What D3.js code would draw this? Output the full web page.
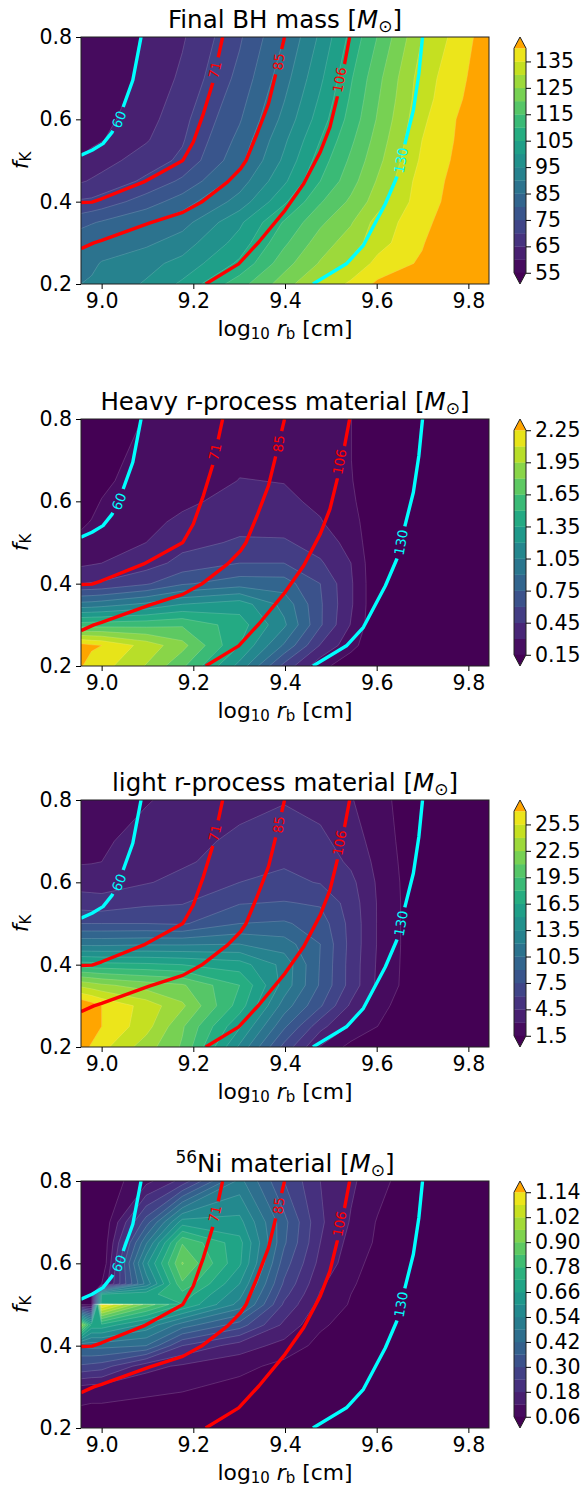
<!DOCTYPE html>
<html><head><meta charset="utf-8">
<script src="https://d3js.org/d3.v7.min.js"></script>
<style>html,body{margin:0;padding:0;background:#fff}svg{display:block}text{font-family:"DejaVu Sans";fill:#000}</style>
</head><body><svg id="c" width="584" height="1486"></svg>
<script>
// grid coordinates
const logRb=[8.955,8.978,9.0,9.097,9.176,9.301,9.398,9.477,9.544,9.602,9.699,9.845];
const fK=[.2,.25,.3,.35,.4,.45,.5,.55,.6,.65,.7,.8];
const fKni=[.2,.25,.3,.35,.4,.45,.5,.501,.525,.55,.6,.65,.7,.8];
// field values, rows from fK=.2 to fK=.8
const bhMass=[
[90,91,92,95.5,101,113,122.5,131,136,141,146,165],
[87,88.5,90.5,93.5,96.5,106,118,125.5,131,136.5,140.8,160],
[84,84.8,85.8,89,92.5,102,114,122.5,127.5,133,139.5,152],
[78.2,79.5,80.5,84.4,88,99,110.5,119,124.5,132,138.5,147.9],
[70.7,71,72,77.5,82.5,92,104,114.5,121,127.5,138,145.1],
[64.5,65.5,66.5,71,76,87.5,99,110,118,125.5,137.5,144.9],
[60.8,62,63,67.5,71,83.5,96,107.5,116,123.5,136,145.5],
[57.5,58.8,59.7,64.5,69.5,81.5,94,105,114,122,135,145.5],
[56,57.3,58.5,63,68.5,79.5,91.5,102.5,112,120.5,134,145.8],
[55.5,56.6,57.7,62,67.2,78,89.7,100.7,110.7,119.5,133,144.5],
[55,56,57,61.2,66,76.5,88,99,109.5,118.5,132.5,143.7],
[55,56,57,60.5,64.4,74.3,85,96,106.5,115.2,130,143]];
const heavyR=[
[2.26,2.2,2.16,1.94,1.68,1.15,.55,.2,.05,.02,.02,.02],
[2.31,2.27,2.25,2.04,1.85,1.35,.88,.44,.2,.02,.02,.02],
[1.57,1.58,1.58,1.6,1.63,1.42,1.08,.62,.29,.02,.02,.02],
[.95,.96,.98,1.08,1.2,1.28,1,.62,.32,.02,.02,.02],
[.45,.46,.47,.58,.73,.83,.82,.6,.32,.02,.02,.02],
[.27,.285,.3,.38,.5,.6,.6,.47,.3,.02,.02,.02],
[.18,.2,.22,.3,.4,.47,.47,.38,.25,.02,.02,.02],
[.13,.155,.18,.26,.33,.4,.38,.31,.2,.05,.02,.02],
[.09,.12,.155,.21,.27,.35,.33,.27,.18,.02,.02,.02],
[.07,.09,.12,.22,.19,.305,.295,.23,.16,.02,.02,.02],
[.05,.07,.1,.2,.17,.27,.24,.2,.152,.02,.02,.02],
[.03,.04,.05,.16,.17,.22,.2,.16,.152,.02,.02,.02]];
const lightR=[
[28,26.7,26,23.2,20.8,13.2,7,2.9,1,.5,.2,.2],
[29.5,28.2,27,24.6,21.2,15.2,9.3,5,2.8,1.5,.2,.2],
[28.5,27.8,27,24.9,22.8,17.3,11.3,7.7,4.2,2,.2,.2],
[23.6,23.2,22.8,21.8,21.2,18,12.9,8.8,5.4,2.7,.2,.2],
[17.2,17.1,17,16.8,16.5,15.7,13,8.9,5.4,2.8,.2,.2],
[11.6,11.6,11.6,11.8,11.8,12,11.2,9,5.5,2.9,.2,.2],
[7.5,7.5,7.5,7.5,7.3,9,9.2,8.3,5.5,2.9,.2,.2],
[5.2,5.1,5,5.7,5.9,7.4,7.6,7.3,5.3,2.9,.2,.2],
[3.9,3.9,3.9,4.4,4.9,6,6.4,5.9,4.9,2.8,.2,.2],
[2.85,2.9,3,3.9,4.3,5.1,5.8,5.4,4.2,2.6,.2,.2],
[2.6,2.7,2.8,3.5,3.9,4.9,5.3,4.9,3.7,2.4,.2,.2],
[2,2.1,2.2,2.9,3.4,3.9,4.4,3.9,3.1,2.1,.2,.2]];
const ni56=[
[0,0,0,0,0,0,0,0,0,0,0,0],
[.055,.05,.05,.04,.03,.02,.01,0,0,0,0,0],
[.11,.1,.1,.08,.07,.04,.02,.01,0,0,0,0],
[.29,.28,.27,.14,.11,.08,.04,.02,0,0,0,0],
[.43,.44,.44,.42,.24,.15,.1,.04,.02,0,0,0],
[.95,.7,.7,.58,.45,.33,.165,.07,.035,.01,0,0],
[.06,.05,1.15,.88,.72,.52,.23,.1,.055,.01,0,0],
[.05,.04,.7,.69,.72,.52,.23,.1,.055,.01,0,0],
[.03,.03,.66,.7,.76,.56,.26,.115,.06,.015,0,0],
[.02,.02,.06,.5,.83,.6,.29,.13,.07,.02,0,0],
[0,0,0,.585,.905,.67,.33,.16,.09,.03,0,0],
[0,0,0,.47,.835,.68,.37,.18,.1,.05,0,0],
[0,0,0,.33,.63,.62,.38,.19,.115,.055,0,0],
[0,0,.02,.1,.2,.5,.3,.18,.13,.085,0,0]];
// contour levels
const bhLevels=d3.range(18).map(i=>55+5*i);
const heavyLevels=d3.range(15).map(i=>+(0.15+0.15*i).toFixed(2));
const lightLevels=d3.range(18).map(i=>1.5+1.5*i);
const niLevels=d3.range(19).map(i=>+(0.06+0.06*i).toFixed(2));
const bhTicks=["55","65","75","85","95","105","115","125","135"];
const heavyTicks=["0.15","0.45","0.75","1.05","1.35","1.65","1.95","2.25"];
const lightTicks=["1.5","4.5","7.5","10.5","13.5","16.5","19.5","22.5","25.5"];
const niTicks=["0.06","0.18","0.30","0.42","0.54","0.66","0.78","0.90","1.02","1.14"];
// BH-mass contour lines overlaid on all panels [log r_b, f_K]
const line60=[[8.955,.513],[8.979,.525],[9.003,.541],[9.023,.569],[9.047,.63],[9.068,.695],[9.086,.8]];
const line71=[[8.955,.398],[8.979,.399],[9,.407],[9.092,.448],[9.177,.5],[9.2,.545],[9.222,.614],[9.242,.687],[9.264,.8]];
const line85=[[8.955,.286],[8.983,.3],[9,.306],[9.104,.348],[9.177,.374],[9.218,.399],[9.275,.448],[9.303,.48],[9.315,.5],[9.339,.565],[9.364,.638],[9.38,.711],[9.399,.8]];
const line106=[[9.227,.2],[9.299,.249],[9.343,.302],[9.4,.379],[9.441,.444],[9.477,.521],[9.498,.581],[9.514,.654],[9.53,.735],[9.541,.8]];
const line130=[[9.461,.2],[9.534,.249],[9.571,.294],[9.619,.395],[9.644,.46],[9.66,.533],[9.68,.622],[9.692,.711],[9.7,.8]];
const overlay=[
 {name:"60",pts:line60,color:"#00ffff",at:[9.038,.6],ang:-68},
 {name:"71",pts:line71,color:"#ff0000",at:[9.247,.72],ang:-78},
 {name:"85",pts:line85,color:"#ff0000",at:[9.386,.74],ang:-84},
 {name:"106",pts:line106,color:"#ff0000",at:[9.519,.696],ang:-80},
 {name:"130",pts:line130,color:"#00ffff",at:[9.653,.5],ang:-80}];
const xTicks=[9.0,9.2,9.4,9.6,9.8], yTicks=[.2,.4,.6,.8];

const panels=[
 {top:37,grid:bhMass,rows:fK,levels:bhLevels,ticks:bhTicks,title:"final"},
 {top:419,grid:heavyR,rows:fK,levels:heavyLevels,ticks:heavyTicks,title:"heavy"},
 {top:800,grid:lightR,rows:fK,levels:lightLevels,ticks:lightTicks,title:"light"},
 {top:1181,grid:ni56,rows:fKni,levels:niLevels,ticks:niTicks,title:"ni"}];

const L=81,R=489,H=247,FS=20.5,TS=24.5,LS=21.8;
const svg=d3.select("#c");
const over="#ffa500";
const idxX=d3.scaleLinear().domain(d3.range(logRb.length)).range(logRb);

function rich(t,parts){parts.forEach(p=>{const s=t.append("tspan").text(p.t);
  if(p.i)s.attr("font-style","italic");
  if(p.size)s.attr("font-size",p.size);
  if(p.dy)s.attr("dy",p.dy);});}
const msun=[{t:"M",i:1},{t:"⊙",size:17,dy:4},{t:"]",dy:-4}];
const titles={
 final:[{t:"Final BH mass ["},...msun],
 heavy:[{t:"Heavy r-process material ["},...msun],
 light:[{t:"light r-process material ["},...msun],
 ni:[{t:"56",size:17,dy:-9},{t:"Ni material [",dy:9},...msun]};

panels.forEach((p,pi)=>{
  const x=d3.scaleLinear().domain([8.955,9.845]).range([L,R]);
  const y=d3.scaleLinear().domain([.2,.8]).range([p.top+H,p.top]);
  const idxY=d3.scaleLinear().domain(d3.range(p.rows.length)).range(p.rows);
  const g=svg.append("g");
  const clipId="clip"+pi;
  svg.append("clipPath").attr("id",clipId).append("rect").attr("x",L).attr("y",p.top).attr("width",R-L).attr("height",H);
  const plot=g.append("g").attr("clip-path",`url(#${clipId})`);
  const n=p.levels.length-1;
  const bandColor=i=>i>=n?over:d3.interpolateViridis((i+.5)/n);
  plot.append("rect").attr("x",L).attr("y",p.top).attr("width",R-L).attr("height",H).attr("fill","#440154");
  const values=p.grid.flat();
  const nx=logRb.length,ny=p.rows.length;
  const conts=d3.contours().size([nx,ny]).thresholds(p.levels)(values);
  const px=pt=>{const cx=Math.max(0,Math.min(nx-1,pt[0]-.5)),cy=Math.max(0,Math.min(ny-1,pt[1]-.5));
    return [x(idxX(cx)),y(idxY(cy)),cx,cy];};
  const line=d3.line();
  conts.forEach((c,i)=>{
    let d="";
    c.coordinates.forEach(poly=>poly.forEach(ring=>{
      d+=line(ring.map(px).map(q=>[q[0],q[1]]))+"Z";}));
    if(d)plot.append("path").attr("d",d).attr("fill",bandColor(i)).attr("fill-rule","evenodd")
      .attr("stroke",bandColor(i)).attr("stroke-width",.3);
  });
  // thin level lines, omitting the parts lying on the frame
  conts.forEach(c=>{
    let d="";
    c.coordinates.forEach(poly=>poly.forEach(ring=>{
      const q=ring.map(px);
      for(let k=1;k<q.length;k++){
        const a=q[k-1],b=q[k];
        const same=(a[2]===b[2]&&(a[2]===0||a[2]===nx-1))||(a[3]===b[3]&&(a[3]===0||a[3]===ny-1));
        if(!same)d+=`M${a[0]},${a[1]}L${b[0]},${b[1]}`;
      }}));
    if(d)plot.append("path").attr("d",d).attr("fill","none").attr("stroke","#fff").attr("stroke-opacity",.3).attr("stroke-width",.5);
  });
  // overlay lines with label gaps
  overlay.forEach(o=>{
    const pts=o.pts.map(q=>[x(q[0]),y(q[1])]);
    const a=[x(o.at[0]),y(o.at[1])];
    const gap=(o.name.length===3?33:26)/2;
    let s=0,best=1e9,bestS=0;const cum=[0];
    for(let k=1;k<pts.length;k++){
      const u=pts[k-1],v=pts[k],dx=v[0]-u[0],dy=v[1]-u[1],l=Math.hypot(dx,dy);
      const tt=Math.max(0,Math.min(1,((a[0]-u[0])*dx+(a[1]-u[1])*dy)/(l*l)));
      const dd=Math.hypot(u[0]+tt*dx-a[0],u[1]+tt*dy-a[1]);
      if(dd<best){best=dd;bestS=s+tt*l;}
      s+=l;cum.push(s);
    }
    const at=sv=>{let k=1;while(k<pts.length-1&&cum[k]<sv)k++;
      const t=(sv-cum[k-1])/(cum[k]-cum[k-1]);
      return [pts[k-1][0]+t*(pts[k][0]-pts[k-1][0]),pts[k-1][1]+t*(pts[k][1]-pts[k-1][1])];};
    const s0=bestS-gap,s1=bestS+gap;
    const seg1=pts.filter((q,k)=>cum[k]<s0).concat([at(s0)]);
    const seg2=[at(s1)].concat(pts.filter((q,k)=>cum[k]>s1));
    [seg1,seg2].forEach(sg=>plot.append("path").attr("d",line(sg)).attr("fill","none")
      .attr("stroke",o.color).attr("stroke-width",3.4).attr("stroke-linejoin","round"));
    plot.append("text").attr("transform",`translate(${a[0]},${a[1]}) rotate(${o.ang})`)
      .attr("text-anchor","middle").attr("dy",".36em").attr("font-size",13.5)
      .style("fill",o.color).text(o.name);
  });
  // frame
  g.append("rect").attr("x",L).attr("y",p.top).attr("width",R-L).attr("height",H)
    .attr("fill","none").attr("stroke","#222").attr("stroke-width",1);
  // axes
  const ax=g.append("g").attr("transform",`translate(0,${p.top+H})`)
    .call(d3.axisBottom(x).tickValues(xTicks).tickFormat(d3.format(".1f")).tickSize(5).tickPadding(4));
  const ay=g.append("g").attr("transform",`translate(${L},0)`)
    .call(d3.axisLeft(y).tickValues(yTicks).tickFormat(d3.format(".1f")).tickSize(5).tickPadding(4));
  [ax,ay].forEach(a=>{a.select(".domain").remove();a.selectAll("text").attr("font-size",FS).attr("font-family","DejaVu Sans");});
  // title & labels
  const tt=g.append("text").attr("x",(L+R)/2).attr("y",p.top-9).attr("text-anchor","middle").attr("font-size",TS);
  rich(tt,titles[p.title]);
  const xl=g.append("text").attr("x",(L+R)/2).attr("y",p.top+H+52).attr("text-anchor","middle").attr("font-size",LS);
  rich(xl,[{t:"log"},{t:"10",size:15,dy:3},{t:" ",dy:-3},{t:"r",i:1},{t:"b",size:15,dy:3},{t:" [cm]",dy:-3}]);
  const yl=g.append("text").attr("transform",`translate(28,${p.top+H/2}) rotate(-90)`).attr("text-anchor","middle").attr("font-size",LS);
  rich(yl,[{t:"f",i:1},{t:"K",size:15,dy:3}]);
  // colorbar
  const cL=514,cR=526,cH=H/1.1,ext=cH*.05,cTop=p.top+ext,cBot=cTop+cH,cMid=(cL+cR)/2;
  const cy=d3.scaleLinear().domain([p.levels[0],p.levels[n]]).range([cBot,cTop]);
  const cg=g.append("g");
  d3.range(n).forEach(i=>cg.append("rect").attr("x",cL).attr("width",cR-cL)
     .attr("y",cy(p.levels[i+1])).attr("height",cy(p.levels[i])-cy(p.levels[i+1])+.3).attr("fill",bandColor(i)));
  cg.append("path").attr("d",`M${cL},${cTop}L${cMid},${p.top}L${cR},${cTop}Z`).attr("fill",over);
  cg.append("path").attr("d",`M${cL},${cBot}L${cMid},${p.top+H}L${cR},${cBot}Z`).attr("fill","#440154");
  cg.append("path").attr("d",`M${cL},${cTop}L${cMid},${p.top}L${cR},${cTop}L${cR},${cBot}L${cMid},${p.top+H}L${cL},${cBot}Z`)
    .attr("fill","none").attr("stroke","#222").attr("stroke-width",1);
  const ca=cg.append("g").attr("transform",`translate(${cR},0)`)
    .call(d3.axisRight(cy).tickValues(p.ticks.map(Number)).tickFormat((d,i)=>p.ticks[i]).tickSize(5).tickPadding(4));
  ca.select(".domain").remove();
  ca.selectAll("text").attr("font-size",FS).attr("font-family","DejaVu Sans");
});
</script></body></html>
